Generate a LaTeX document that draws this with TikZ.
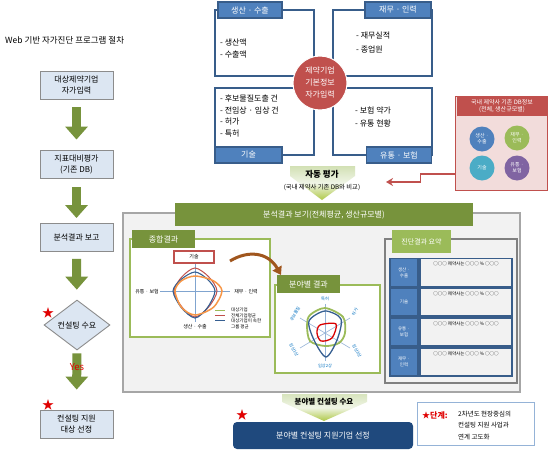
\documentclass[tikz,border=0pt]{standalone}
\usepackage{fontspec}
\setmainfont{Noto Sans CJK KR}
\usetikzlibrary{shapes.geometric,arrows.meta,calc}
\definecolor{qblue}{HTML}{385D8A}
\definecolor{tblue}{HTML}{4F81BD}
\definecolor{dblue}{HTML}{1F497D}
\definecolor{cred}{HTML}{C0504D}
\definecolor{pinkbg}{HTML}{F2DCDB}
\definecolor{dgreen}{HTML}{77933C}
\definecolor{lgreen}{HTML}{9BBB59}
\definecolor{cyanc}{HTML}{4BACC6}
\definecolor{purp}{HTML}{8064A2}
\definecolor{orng}{HTML}{F79646}
\definecolor{lbluebox}{HTML}{DCE6F2}
\definecolor{gbg}{HTML}{F2F2F2}
\definecolor{gline}{HTML}{A6A6A6}
\definecolor{brwn}{HTML}{A0561E}
\definecolor{spoke}{HTML}{95B3D7}
\definecolor{txtblue}{HTML}{0070C0}
\definecolor{starred}{HTML}{E00000}
\definecolor{radblue}{HTML}{365F91}
\newcommand{\fs}[1]{\fontsize{#1}{#1}\selectfont}
\tikzset{
  flowbox/.style={draw=black!45, line width=0.9pt, fill=lbluebox, minimum width=73pt, minimum height=28pt, align=center, font=\fontsize{8}{11}\selectfont, inner sep=1pt},
  garr/.style={draw=dgreen, line width=9pt, -{Triangle[width=22pt,length=13pt]}},
  qbox/.style={draw=qblue, line width=1.3pt, fill=white, inner sep=0pt},
  qtab/.style={draw=qblue, line width=1.2pt, fill=tblue, text=white, font=\fs{8}, minimum height=16pt, inner sep=1pt},
  item/.style={anchor=west, font=\fs{8}, inner sep=0pt},
  starnode/.style={text=starred, font=\fs{12}, inner sep=0pt},
  dbcirc/.style={circle, minimum size=25pt, inner sep=0pt, text=white, align=center, font=\fontsize{5}{6}\selectfont},
  gtab/.style={fill=dgreen, text=white, font=\fs{8}, inner sep=1pt},
  panel/.style={draw=lgreen, line width=1.5pt, fill=white, inner sep=0pt},
  axlab/.style={fill=white, font=\fs{5}, inner sep=1pt},
  tinylab/.style={font=\fs{4.5}, anchor=west, inner sep=0pt},
  radlab/.style={text=txtblue, font=\fs{4.2}, inner sep=0pt},
  sumsq/.style={draw=qblue, line width=1.3pt, fill=tblue, text=white, minimum width=28pt, minimum height=28pt, align=center, font=\fontsize{4.5}{6}\selectfont, inner sep=0pt},
  sumbox/.style={draw=qblue, line width=1.3pt, fill=gbg, minimum width=92pt, minimum height=28pt, inner sep=0pt},
  sumtxt/.style={font=\fs{4.5}, inner sep=0pt}
}
\begin{document}
\begin{tikzpicture}[x=1pt,y=-1pt]
\useasboundingbox (0,0) rectangle (551,450);
\fill[white] (0,0) rectangle (551,450);

% ---------- left flow ----------
\node[anchor=west, font=\fs{8.5}, inner sep=0pt] (title) at (5,40) {Web 기반 자가진단 프로그램 절차};
\node[flowbox] (b1) at (76.5,85) {대상제약기업\\자가입력};
\node[flowbox] (b2) at (76.5,164) {지표대비평가\\(기존 DB)};
\node[flowbox] (b3) at (76.5,237.5) {분석결과 보고};
\node[diamond, aspect=1.32, draw=black!45, line width=0.9pt, fill=lbluebox, minimum width=66pt, minimum height=50pt, inner sep=0pt, font=\fs{8}] (d1) at (77,325) {컨설팅 수요};
\node[flowbox] (b5) at (76.5,424) {컨설팅 지원\\대상 선정};
\draw[garr, shorten <=8pt, shorten >=10pt] (b1) -- (b2);
\draw[garr, shorten <=9pt, shorten >=5pt] (b2) -- (b3);
\draw[garr, shorten <=7pt, shorten >=10pt] (b3) -- (d1);
\draw[garr, shorten <=3pt, shorten >=20pt] (d1) -- (b5);
\node[text=starred, font=\fs{9.5}, inner sep=0pt] (yes) at (77,367) {Yes};
\node[starnode] (st1) at (48,313) {★};
\node[starnode] (st2) at (48,405) {★};

% ---------- quadrant boxes ----------
\node[qbox, minimum width=99pt, minimum height=66pt] (qtl) at (264.5,43) {};
\node[qbox, minimum width=99pt, minimum height=66pt] (qtr) at (382.5,43) {};
\node[qbox, minimum width=99pt, minimum height=67pt] (qbl) at (264.5,121.5) {};
\node[qbox, minimum width=99pt, minimum height=67pt] (qbr) at (382.5,121.5) {};
\node[qtab, minimum width=64pt] (ttl) at (250,10) {생산 · 수출};
\node[qtab, minimum width=66pt] (ttr) at (398,10) {재무 · 인력};
\node[qtab, minimum width=67pt] (tbl) at (248.5,155) {기술};
\node[qtab, minimum width=65pt] (tbr) at (399,155) {유통 · 보험};
\node[item] (i1) at (220,43) {- 생산액};
\node[item] (i2) at (220,54) {- 수출액};
\node[item] (i3) at (356,36) {- 재무실적};
\node[item] (i4) at (356,49) {- 종업원};
\node[item] (i5) at (220,98) {- 후보물질도출 건};
\node[item] (i6) at (220,110) {- 전임상 · 임상 건};
\node[item] (i7) at (220,122) {- 허가};
\node[item] (i8) at (220,134) {- 특허};
\node[item] (i9) at (355,110) {- 보험 약가};
\node[item] (i10) at (355,123) {- 유통 현황};
\node[circle, fill=cred, draw=white, line width=1pt, minimum size=54pt, inner sep=0pt, text=white, align=center, font=\fontsize{8}{12}\selectfont] (core) at (320,83) {제약기업\\기본정보\\자가입력};

% ---------- DB box ----------
\node[draw=cred, line width=1pt, fill=pinkbg, minimum width=92pt, minimum height=94pt, inner sep=0pt] (db) at (501,143) {};
\node[fill=cred, minimum width=90pt, minimum height=19pt, inner sep=0pt, text=white, align=center, font=\fontsize{6}{7.5}\selectfont] (dbh) at (502,106) {국내 제약사 기존 DB정보\\(전체, 생산규모별)};
\node[dbcirc, fill=tblue] (c1) at (482,139) {생산 ·\\수출};
\node[dbcirc, fill=lgreen] (c2) at (517,138) {재무 ·\\인력};
\node[dbcirc, fill=cyanc] (c3) at (482,168) {기술};
\node[dbcirc, fill=purp] (c4) at (517,168) {유통 ·\\보험};

% ---------- auto evaluation funnel ----------
\shade[top color=lgreen!45, bottom color=lgreen!80!yellow, middle color=lgreen!15] (290,166) -- (355,166) -- (355,176) -- (322,200) -- (290,176) -- cycle;
\node[font=\bfseries\fs{8.5}, inner sep=0pt] (auto) at (322,174) {자동 평가};
\node[font=\fs{6.3}, inner sep=0pt] (autosub) at (322,188) {(국내 제약사 기존 DB와 비교)};
\coordinate (dbout) at (db.west |- 0,174);
\coordinate (autoin) at (386,182);
\draw[cred, line width=1.4pt, -{Stealth[length=7pt,width=8pt]}] (dbout) -| ($(dbout)!0.5!(autoin)$) |- (autoin);

% ---------- analysis panel ----------
\node[draw=gline, line width=1.5pt, fill=gbg, minimum width=397pt, minimum height=179pt, inner sep=0pt] (big) at (321.5,302.5) {};
\node[fill=dgreen, minimum width=298pt, minimum height=23pt, inner sep=0pt, text=white, font=\fs{8}] (bighead) at (324,214.5) {분석결과 보기(전체평균, 생산규모별)};

% 종합결과
\node[panel, minimum width=140pt, minimum height=98pt] (p1) at (200,288) {};
\node[gtab, minimum width=63pt, minimum height=18pt] (p1t) at (163.5,239) {종합결과};
\draw[spoke!70!tblue, line width=0.6pt] (195,263) -- (195,322);
\draw[spoke!70!tblue, line width=0.6pt] (160,291) -- (230,291);
\draw[cred, line width=1pt] plot[smooth cycle] coordinates {(195,268) (208.6,276.7) (217,291) (208.6,307.1) (195,317) (182,307.1) (174,291) (182,276.7)};
\draw[radblue, line width=1.1pt] plot[smooth cycle] coordinates {(195,272) (207.4,279.2) (215,291) (207.4,307.7) (195,318) (181.4,307.7) (173,291) (181.4,279.2)};
\draw[orng, line width=1.5pt] plot[smooth cycle] coordinates {(195,276) (213.4,280.8) (222,291) (213.4,307.3) (195,315) (181.4,307.3) (175,291) (181.4,280.8)};
\node[draw=cred, line width=1.2pt, fill=white, minimum width=40pt, minimum height=12pt, inner sep=0pt, font=\fs{5}] (ax1) at (194,257) {기술};
\node[axlab] (ax2) at (147,292) {유통 · 보험};
\node[axlab] (ax3) at (246,292) {재무 · 인력};
\node[axlab] (ax4) at (195,327) {생산 · 수출};
\coordinate (lg1a) at (215,310); \coordinate (lg1b) at (225,310);
\coordinate (lg2a) at (215,315); \coordinate (lg2b) at (225,315);
\coordinate (lg3a) at (215,320); \coordinate (lg3b) at (225,320);
\draw[lgreen, line width=0.8pt] (lg1a) -- (lg1b);
\draw[cred, line width=0.8pt] (lg2a) -- (lg2b);
\draw[radblue, line width=0.8pt] (lg3a) -- (lg3b);
\node[tinylab] (lt1) at (231,310) {대상기업};
\node[tinylab] (lt2) at (231,315.5) {전체기업평균};
\node[tinylab] (lt3) at (231,321) {대상기업이 속한};
\node[tinylab] (lt4) at (231,327) {그룹 평균};

% 분야별 결과
\node[panel, minimum width=105pt, minimum height=88pt] (p2) at (327.5,329) {};
\node[gtab, minimum width=63pt, minimum height=18pt] (p2t) at (308.5,284) {분야별 결과};
\coordinate (bst) at (230,261);
\coordinate (ben) at (281,275);
\draw[brwn, line width=3pt, -{Triangle[length=8pt,width=10pt]}] (bst) .. controls (248,250) and (268,252) .. (ben);
\coordinate (rc) at (325,333);
\foreach \p in {(325,304),(350,318),(350,348),(325,361),(300,348),(300,318)}
  \draw[spoke, line width=0.6pt] (rc) -- \p;
\draw[lgreen, line width=1.8pt] plot[smooth cycle] coordinates {(325,308) (343,317) (345,333) (339,343) (325,346) (310,341) (307,325) (310,315)};
\draw[radblue, line width=1.3pt] plot[smooth cycle] coordinates {(325,311) (341,319) (337,340) (326,357) (314,340) (309,321)};
\draw[red!85!black, line width=1.3pt] plot[smooth cycle] coordinates {(320,325) (336,324) (332,338) (321,341) (317,333)};
\node[radlab] (r1) at (325,299) {특허};
\node[radlab, rotate=60] (r2) at (355,312) {허가};
\node[radlab, rotate=-60] (r3) at (357,351) {임상3상};
\node[radlab] (r4) at (325,366) {임상2상};
\node[radlab, rotate=-60] (r5) at (294,350) {임상1상};
\node[radlab, rotate=60] (r6) at (295,314) {후보물질};

% 진단결과 요약
\node[draw=black!50, line width=1.2pt, fill=gbg, minimum width=132pt, minimum height=144pt, inner sep=0pt] (p3) at (451,311) {};
\node[fill=lgreen, minimum width=59pt, minimum height=23pt, inner sep=0pt, text=white, font=\fs{7}] (p3t) at (421.5,241.5) {진단결과 요약};
\node[sumsq] (sq1) at (404,272.5) {생산 ·\\수출};
\node[sumsq] (sq2) at (404,302) {기술};
\node[sumsq] (sq3) at (404,332) {유통 ·\\보험};
\node[sumsq] (sq4) at (404,362) {재무 ·\\인력};
\node[sumbox] (sb1) at (466,272.5) {};
\node[sumbox] (sb2) at (466,302) {};
\node[sumbox] (sb3) at (466,332) {};
\node[sumbox] (sb4) at (466,362) {};
\node[sumtxt] (st1t) at (466,264) {○○○ 제약사는 ○○○ \% ○○○};
\node[sumtxt] (st2t) at (466,294) {○○○ 제약사는 ○○○ \% ○○○};
\node[sumtxt] (st3t) at (466,324) {○○○ 제약사는 ○○○ \% ○○○};
\node[sumtxt] (st4t) at (466,354) {○○○ 제약사는 ○○○ \% ○○○};

% ---------- bottom ----------
\shade[top color=lgreen!40, bottom color=lgreen!80!yellow, middle color=lgreen!15] (282,394) -- (367,394) -- (367,402) -- (324,421) -- (282,402) -- cycle;
\node[font=\bfseries\fs{7.5}, inner sep=0pt] (need) at (324,402) {분야별 컨설팅 수요};
\node[fill=dblue, rounded corners=4pt, minimum width=180pt, minimum height=27pt, inner sep=0pt, text=white, font=\fs{8}] (sel) at (323,435.5) {분야별 컨설팅 지원기업 선정};
\node[starnode] (st3) at (242,415) {★};
\node[draw=spoke, line width=0.8pt, fill=white, minimum width=117pt, minimum height=43pt, inner sep=0pt] (note) at (475.5,423.5) {};
\node[anchor=west, text=starred, font=\bfseries\fs{8}, inner sep=0pt] (notehead) at (422,415) {★단계:};
\node[anchor=west, font=\fs{6.5}, inner sep=0pt] (nl1) at (458,414) {2차년도 현장중심의};
\node[anchor=west, font=\fs{6.5}, inner sep=0pt] (nl2) at (458,425.5) {컨설팅 지원 사업과};
\node[anchor=west, font=\fs{6.5}, inner sep=0pt] (nl3) at (458,437) {연계 고도화};
\end{tikzpicture}
\end{document}
